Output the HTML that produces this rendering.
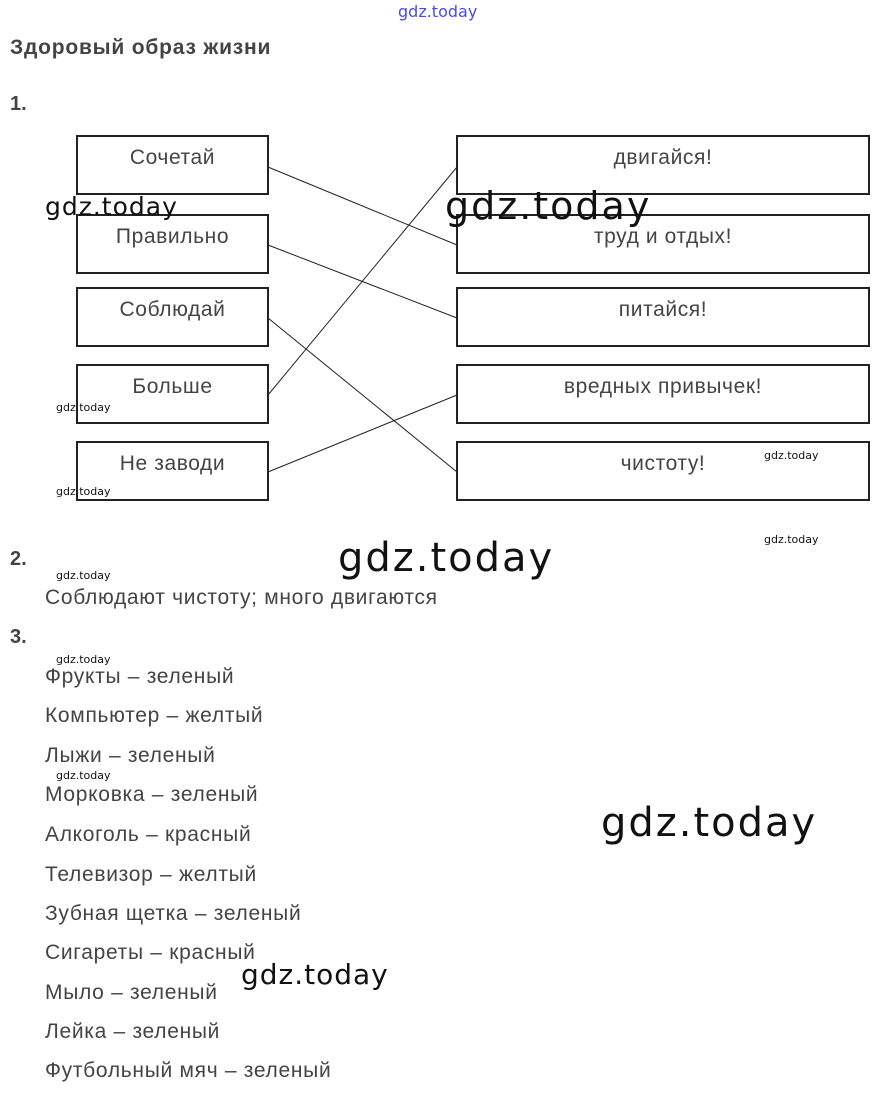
<!DOCTYPE html>
<html><head><meta charset="utf-8"><style>
body{margin:0;width:880px;height:1094px;background:#fff;position:relative;overflow:hidden;font-family:"Liberation Sans",sans-serif;color:#444}
.a{position:absolute;white-space:nowrap}
.b{position:absolute;border:2px solid #222;box-sizing:border-box;text-align:center;font-size:21px;letter-spacing:0.6px;color:#444;padding-top:9px}
.w{position:absolute;font-family:"DejaVu Sans",sans-serif;color:#111;white-space:nowrap;letter-spacing:0px}
.t{font-size:21px;letter-spacing:0.7px;color:#444}
</style></head><body>
<div class="w" style="left:398px;top:2px;font-size:16px;color:#4a4ae0">gdz.today</div>
<div class="a" style="left:10px;top:36px;font-size:21px;letter-spacing:0.8px;font-weight:bold;color:#444">Здоровый образ жизни</div>
<div class="a" style="left:10px;top:93px;font-size:20px;font-weight:bold">1.</div>
<svg class="a" style="left:0;top:0" width="880" height="520"><g stroke="#222" stroke-width="1">
<line x1="268" y1="167" x2="457" y2="245"/><line x1="268" y1="245" x2="457" y2="318"/>
<line x1="268" y1="318" x2="457" y2="472"/><line x1="268" y1="395" x2="457" y2="167"/>
<line x1="268" y1="472" x2="457" y2="395"/></g></svg>
<div class="b" style="left:76px;top:135px;width:193px;height:60px">Сочетай</div>
<div class="b" style="left:76px;top:214px;width:193px;height:60px">Правильно</div>
<div class="b" style="left:76px;top:287px;width:193px;height:60px">Соблюдай</div>
<div class="b" style="left:76px;top:364px;width:193px;height:60px">Больше</div>
<div class="b" style="left:76px;top:441px;width:193px;height:60px">Не заводи</div>
<div class="b" style="left:456px;top:135px;width:414px;height:60px">двигайся!</div>
<div class="b" style="left:456px;top:214px;width:414px;height:60px">труд и отдых!</div>
<div class="b" style="left:456px;top:287px;width:414px;height:60px">питайся!</div>
<div class="b" style="left:456px;top:364px;width:414px;height:60px">вредных привычек!</div>
<div class="b" style="left:456px;top:441px;width:414px;height:60px">чистоту!</div>
<div class="w" style="left:45px;top:192px;font-size:25px;letter-spacing:1px">gdz.today</div>
<div class="w" style="left:445px;top:184px;font-size:38px;letter-spacing:2px">gdz.today</div>
<div class="w" style="left:56px;top:401px;font-size:11px">gdz.today</div>
<div class="w" style="left:56px;top:485px;font-size:11px">gdz.today</div>
<div class="w" style="left:764px;top:449px;font-size:11px">gdz.today</div>
<div class="w" style="left:764px;top:533px;font-size:11px">gdz.today</div>
<div class="w" style="left:338px;top:535px;font-size:40px;letter-spacing:2px">gdz.today</div>
<div class="a" style="left:10px;top:548px;font-size:20px;font-weight:bold">2.</div>
<div class="w" style="left:56px;top:569px;font-size:11px">gdz.today</div>
<div class="a t" style="left:45px;top:586px">Соблюдают чистоту; много двигаются</div>
<div class="a" style="left:10px;top:626px;font-size:20px;font-weight:bold">3.</div>
<div class="w" style="left:56px;top:653px;font-size:11px">gdz.today</div>
<div class="w" style="left:56px;top:769px;font-size:11px">gdz.today</div>
<div class="a t" style="left:45px;top:665px">Фрукты – зеленый</div>
<div class="a t" style="left:45px;top:704px">Компьютер – желтый</div>
<div class="a t" style="left:45px;top:744px">Лыжи – зеленый</div>
<div class="a t" style="left:45px;top:783px">Морковка – зеленый</div>
<div class="a t" style="left:45px;top:823px">Алкоголь – красный</div>
<div class="a t" style="left:45px;top:863px">Телевизор – желтый</div>
<div class="a t" style="left:45px;top:902px">Зубная щетка – зеленый</div>
<div class="a t" style="left:45px;top:941px">Сигареты – красный</div>
<div class="a t" style="left:45px;top:981px">Мыло – зеленый</div>
<div class="a t" style="left:45px;top:1020px">Лейка – зеленый</div>
<div class="a t" style="left:45px;top:1059px">Футбольный мяч – зеленый</div>
<div class="w" style="left:601px;top:800px;font-size:40px;letter-spacing:2px">gdz.today</div>
<div class="w" style="left:241px;top:958px;font-size:28px;letter-spacing:1px">gdz.today</div>
</body></html>
